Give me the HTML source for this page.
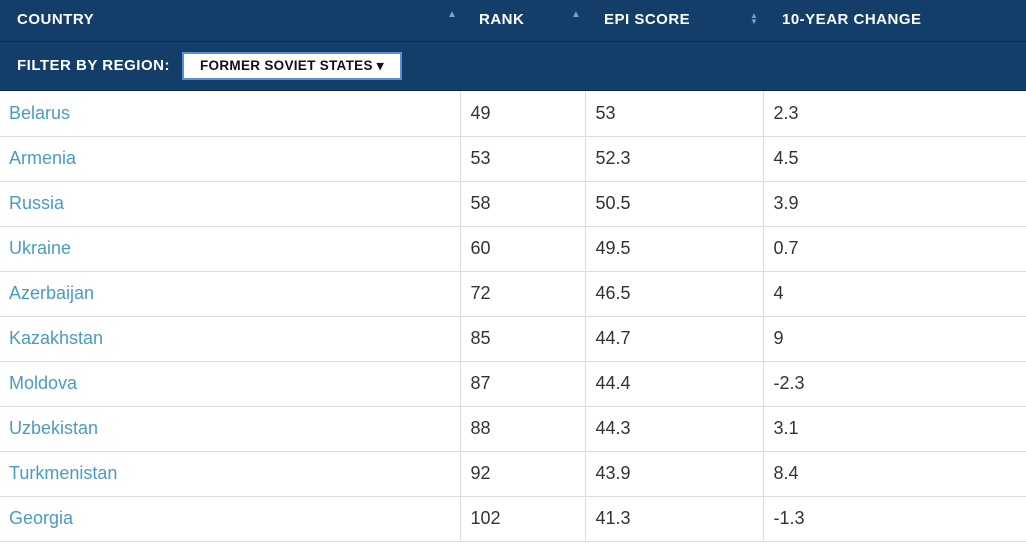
<!DOCTYPE html>
<html><head><meta charset="utf-8"><style>
body{margin:0;width:1026px;height:554px;overflow:hidden;background:#fff;font-family:"Liberation Sans",sans-serif}
.hdr{position:absolute;left:0;top:0;width:1026px;height:41px;background:#123e69;border-bottom:1px solid #0b2a4a}
.hdr div{position:absolute;top:11px;color:#fff;font-weight:bold;font-size:15px;letter-spacing:0.5px}
.arr{color:#7f9ad6!important;font-size:10px!important;top:9px!important}
.flt{position:absolute;left:0;top:42px;width:1026px;height:48px;background:#123e69;border-bottom:1px solid #0b2a4a}
.flt .lbl{position:absolute;left:17px;top:15px;color:#fff;font-weight:bold;font-size:15px;letter-spacing:0.5px}
.sel{position:absolute;left:182px;top:10px;width:216px;height:24px;background:#fff;border:2px solid #5b8fd6;font-weight:bold;font-size:13.5px;line-height:24px;text-indent:16px;color:#111;letter-spacing:0.3px}
table{position:absolute;left:0;top:91px;border-collapse:collapse;width:1026px}
td{height:45px;border-bottom:1px solid #ddd;font-size:18px;color:#333;padding:0 0 0 10px;box-sizing:border-box}
td+td{border-left:1px solid #ddd}
td.c{color:#4a9cbf;padding-left:9px}
</style></head><body>
<div class="hdr">
<div style="left:17px">COUNTRY</div>
<div class="arr" style="left:447px">▲</div>
<div style="left:479px">RANK</div>
<div class="arr" style="left:571px">▲</div>
<div style="left:604px">EPI SCORE</div>
<div class="arr" style="left:750px;line-height:6px;font-size:8px!important;top:13px!important">▲<br>▼</div>
<div style="left:782px">10-YEAR CHANGE</div>
</div>
<div class="flt">
<div class="lbl">FILTER BY REGION:</div>
<div class="sel">FORMER SOVIET STATES ▾</div>
</div>
<table>
<colgroup><col style="width:460px"><col style="width:125px"><col style="width:178px"><col></colgroup>
<tbody id="tb"></tbody></table>
<script>
const countries=["Belarus","Armenia","Russia","Ukraine","Azerbaijan","Kazakhstan","Moldova","Uzbekistan","Turkmenistan","Georgia"];
const ranks=["49","53","58","60","72","85","87","88","92","102"];
const scores=["53","52.3","50.5","49.5","46.5","44.7","44.4","44.3","43.9","41.3"];
const changes=["2.3","4.5","3.9","0.7","4","9","-2.3","3.1","8.4","-1.3"];
const tb=document.getElementById('tb');
countries.forEach((c,i)=>{
const tr=document.createElement('tr');


[[c,'country-cell','c'],[ranks[i],'rank-cell',''],[scores[i],'score-cell',''],[changes[i],'change-cell','']].forEach(v=>{
const td=document.createElement('td');
td.textContent=v[0];
if(v[2])td.className=v[2];


tr.appendChild(td);});
tb.appendChild(tr);});
</script>
</body></html>
